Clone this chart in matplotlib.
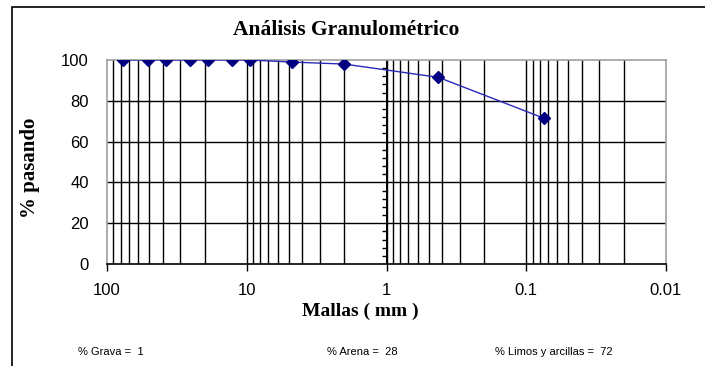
import numpy as np
import matplotlib
matplotlib.use("Agg")
import matplotlib.pyplot as plt
from matplotlib.patches import Rectangle

# sieve openings (mm) and percent passing
abertura = [76.2, 50.8, 38.1, 25.4, 19.05, 12.7, 9.525, 4.76, 2.0, 0.425, 0.075]
pasando = [100, 100, 100, 100, 100, 100, 100, 99, 98, 91.5, 71.5]

x_ticks = [100, 10, 1, 0.1, 0.01]
x_ticklabels = ["100", "10", "1", "0.1", "0.01"]
y_ticks = [0, 20, 40, 60, 80, 100]

resumen = ["% Grava =  1", "% Arena =  28", "% Limos y arcillas =  72"]

narrow = ["Liberation Sans Narrow", "Liberation Sans", "DejaVu Sans"]
serif = ["Liberation Serif", "DejaVu Serif"]

fig = plt.figure(figsize=(7.05, 3.66), dpi=100)
fig.patch.set_facecolor("white")

# outer chart frame (runs off the bottom/right of the image)
fig.patches.append(Rectangle((12 / 705, -0.1), 1.2, 1 - 7 / 366 + 0.1,
                             transform=fig.transFigure, fill=False,
                             edgecolor="black", lw=1.2))

ax = fig.add_axes([107 / 705, 1 - 264 / 366, (666 - 107) / 705, (264 - 60) / 366])
ax.set_xscale("log")
ax.set_xlim(100, 0.01)
ax.set_ylim(0, 100)

# vertical grid at every log step
grid_x = [m * 10.0 ** k for k in range(-2, 2) for m in range(1, 10)]
grid_x = [g for g in grid_x if 0.01 < g < 100]
for g in grid_x:
    ax.axvline(g, color="black", lw=1.0, zorder=1)
for g in [20, 40, 60, 80]:
    ax.axhline(g, color="black", lw=1.0, zorder=1)

# value axis crossing at 1 mm, with minor ticks
ax.axvline(1, color="black", lw=1.4, zorder=2)
minor_y = [v for v in range(4, 100, 4) if v % 20 != 0]
ax.hlines(minor_y, 1, 1.085, color="black", lw=1.0, zorder=2)

ax.plot(abertura, pasando, color="#2a2ab8", lw=1.0, zorder=3)
ax.plot(abertura, pasando, linestyle="none", marker="D", markersize=6.5,
        color="#000080", zorder=4)

for side in ["top", "right", "left"]:
    ax.spines[side].set_color("#a0a0a0")
    ax.spines[side].set_linewidth(1.2)
ax.spines["bottom"].set_color("black")
ax.spines["bottom"].set_linewidth(1.2)

ax.set_xticks(x_ticks)
ax.set_xticklabels(x_ticklabels, fontfamily=narrow, fontsize=12)
ax.xaxis.set_minor_locator(matplotlib.ticker.NullLocator())
ax.tick_params(axis="x", direction="out", length=5, width=1, pad=9)
ax.set_yticks(y_ticks)
ax.set_yticklabels([str(v) for v in y_ticks], fontfamily=narrow, fontsize=12)
ax.tick_params(axis="y", length=0, pad=13)

fig.text(360 / 705, 1 - 311 / 366, "Mallas ( mm )", ha="center", va="center",
         fontfamily=serif, fontweight="bold", fontsize=14)
fig.text(30 / 705, 1 - 168 / 366, "% pasando", ha="center", va="center", rotation=90,
         fontfamily=serif, fontweight="bold", fontsize=15)

fig.text(346 / 705, 1 - 30 / 366, "Análisis Granulométrico", ha="center", va="center",
         fontfamily=serif, fontweight="bold", fontsize=15.5)

xs = [78, 327, 495]
for x, t in zip(xs, resumen):
    fig.text(x / 705, 1 - 352 / 366, t, ha="left", va="center",
             fontfamily=narrow, fontsize=8)

fig.savefig("out.png", dpi=100)
